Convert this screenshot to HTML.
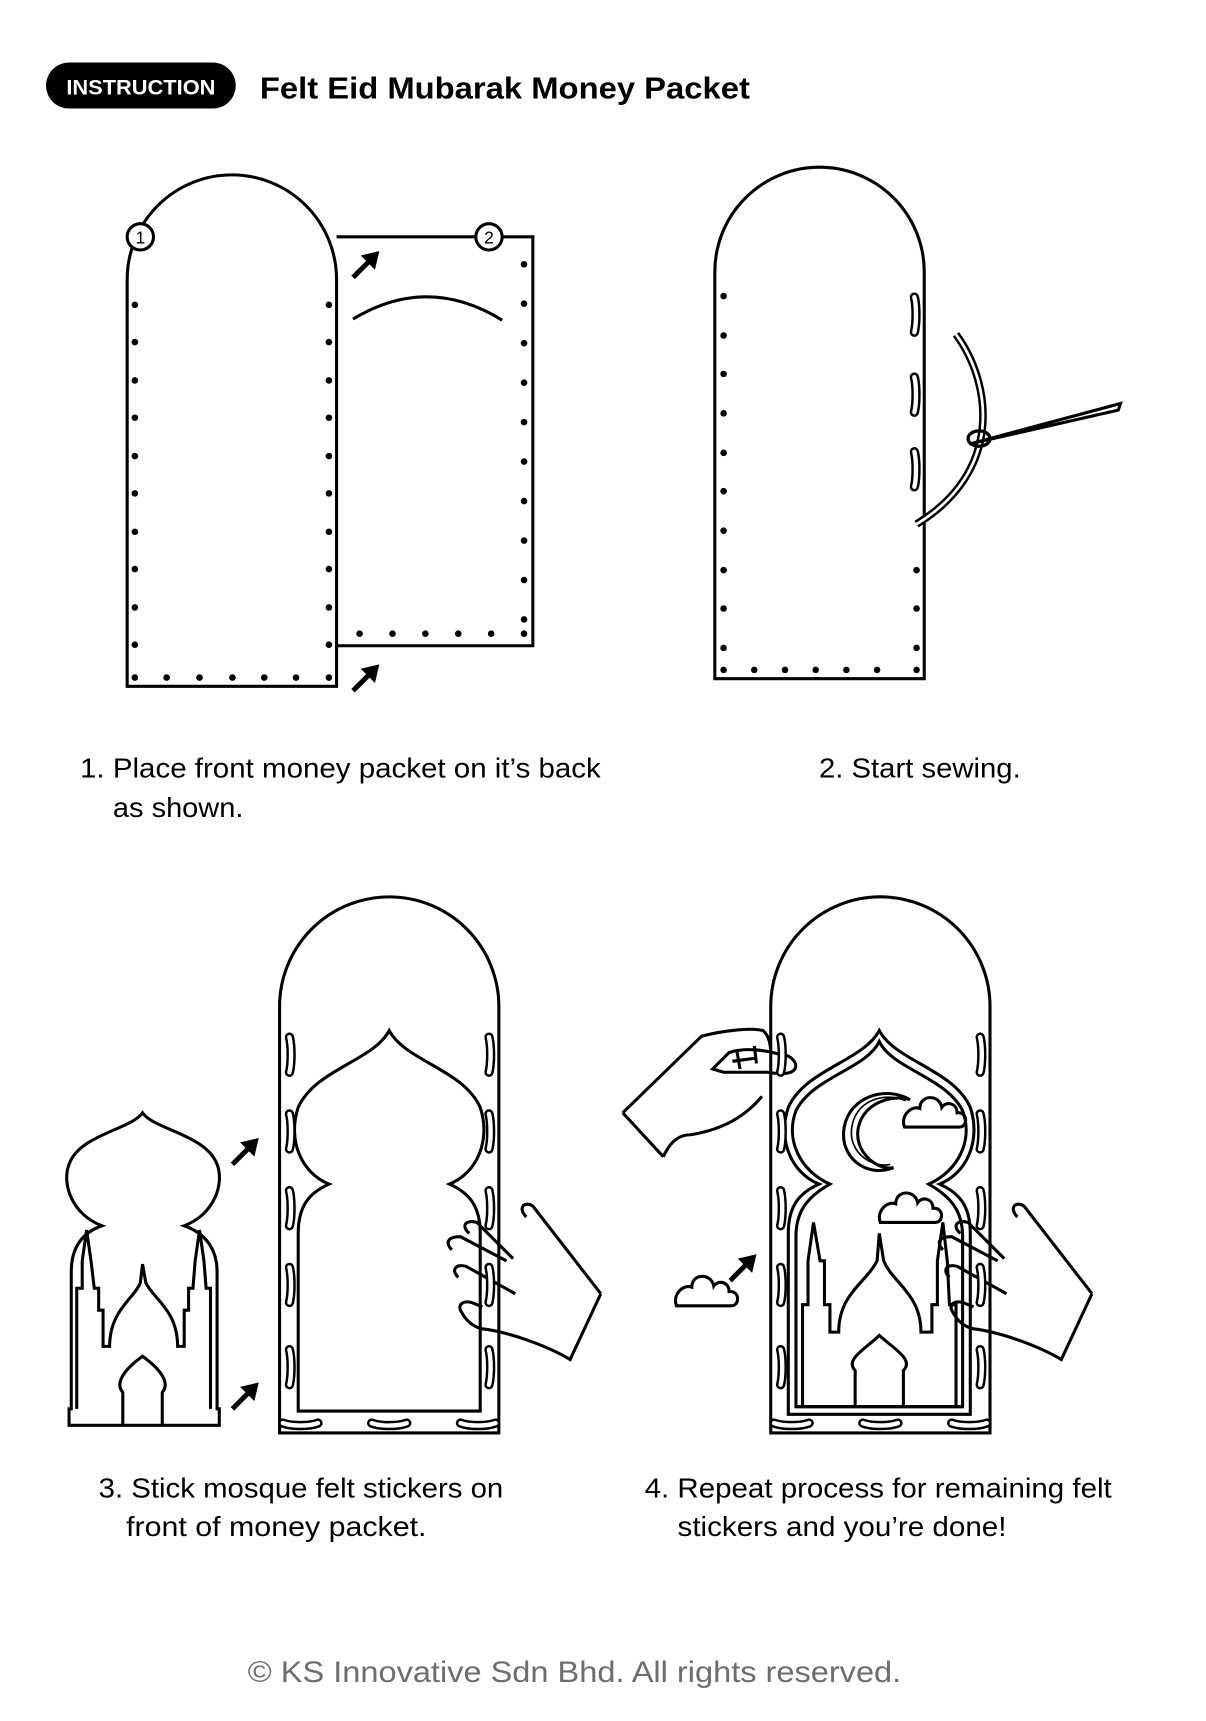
<!DOCTYPE html>
<html><head><meta charset="utf-8"><style>
html,body{margin:0;padding:0;background:#fff;}
svg{display:block;}
text{font-family:"Liberation Sans",sans-serif;}
</style></head><body>
<svg width="1206" height="1721" viewBox="0 0 1100 1569.7" xmlns="http://www.w3.org/2000/svg">
<defs>
<g id="stV"><path d="M0,-16 C2,-8 2,8 0,16" fill="none" stroke="#000" stroke-width="8.5" stroke-linecap="round"/><path d="M0,-16 C2,-8 2,8 0,16" fill="none" stroke="#fff" stroke-width="4" stroke-linecap="round"/></g>
<g id="stH"><path d="M-16,0 C-8,3 8,3 16,0" fill="none" stroke="#000" stroke-width="8.5" stroke-linecap="round"/><path d="M-16,0 C-8,3 8,3 16,0" fill="none" stroke="#fff" stroke-width="4" stroke-linecap="round"/></g>
<g id="arr"><line x1="0" y1="0" x2="15" y2="-15" stroke="#000" stroke-width="4.5"/><path d="M24,-24 L7,-20 L20,-7 Z" fill="#000"/></g>
<path id="cloud" d="M0,0 L50,0 C58,0 58,-14 48,-13 C48,-22 38,-24 34,-18 C32,-30 14,-30 14,-17 C6,-20 -4,-10 0,0 Z"/>
</defs>
<rect x="0" y="0" width="1100" height="1570" fill="#fff"/>

<rect x="42" y="57" width="173" height="42" rx="21" fill="#000"/>
<text x="128.5" y="86" fill="#fff" font-size="19" font-weight="bold" text-anchor="middle" textLength="136" lengthAdjust="spacingAndGlyphs">INSTRUCTION</text>
<text x="237" y="90" font-size="28" font-weight="bold" textLength="447" lengthAdjust="spacingAndGlyphs">Felt Eid Mubarak Money Packet</text>

<g fill="none" stroke="#000" stroke-width="2.8">
<path d="M307,216 L486,216 L486,589 L307,589"/>
<path d="M322,291 Q390,250 458,292"/>
<path d="M116,626 L116,255 A95.5,95.5 0 0 1 307,255 L307,626 Z" fill="#fff"/>
<circle cx="128" cy="216" r="12" fill="#fff"/>
<circle cx="446" cy="216" r="12" fill="#fff"/>
<path d="M652,619 L652,248 A95.5,95.5 0 0 1 843,248 L843,619 Z"/>
<path d="M255,1307 L255,918 A100,100 0 0 1 455,918 L455,1307 Z"/>
<path d="M272,1287 L272,1125 C272,1100 282,1088 300,1080 C275,1070 262,1040 272,1010 C288,975 340,968 355,940 C370,968 422,975 438,1010 C448,1040 435,1070 410,1080 C428,1088 438,1100 438,1125 L438,1287 Z"/>
<path d="M703,1307 L703,918 A100,100 0 0 1 903,918 L903,1307 Z"/>
<path d="M719,1290 L719,1125 C719,1100 729,1088 747,1080 C722,1070 709,1040 719,1010 C735,975 787,968 802,940 C817,968 869,975 885,1010 C895,1040 882,1070 857,1080 C875,1088 885,1100 885,1125 L885,1290 Z"/>
<path d="M726,1283 L726,1128 C726,1105 736,1092 757,1080 C730,1068 716,1040 726,1013 C742,982 790,975 802,950 C814,975 862,982 878,1013 C888,1040 874,1068 847,1080 C868,1092 878,1105 878,1128 L878,1283 Z"/>
<path d="M830,1003 C808,990 775,1000 770,1028 C765,1055 790,1075 815,1065 C800,1068 778,1050 783,1028 C788,1005 815,998 830,1003 Z"/>
<path d="M826,1004 C805,995 780,1005 777,1028 C773,1052 797,1066 812,1062" stroke-width="1.5"/>
<path d="M732,1283 L732,1190 L737,1190 L737,1150 L742,1115 L748,1150 L752,1150 L752,1190 L757,1190 L757,1215 L765,1215 C765,1180 790,1170 800,1150 L802,1125 L806,1150 C814,1170 840,1180 840,1215 L850,1215 L850,1190 L855,1190 L855,1150 L860,1115 L864,1150 L866,1190 L872,1190 L872,1283"/>
<path d="M780,1283 L780,1250 C770,1240 790,1230 802,1218 C815,1230 834,1240 824,1250 L824,1283"/>
<line x1="726" y1="1283" x2="878" y2="1283"/>
<path d="M63,1300 L200,1300 L200,1285 L198,1285 L198,1160 C198,1140 188,1125 168,1118 C195,1108 205,1080 198,1062 C188,1035 140,1030 130,1015 C120,1030 72,1035 63,1062 C56,1080 66,1108 93,1118 C73,1125 65,1140 65,1160 L65,1285 L63,1285 Z"/>
<path d="M70,1285 L70,1175 L75,1175 L75,1150 L79,1122 L83,1150 L86,1175 L90,1175 L90,1195 L94,1195 L94,1228 L100,1228 C100,1195 122,1185 128,1170 L130,1153 L133,1170 C140,1185 162,1195 162,1228 L168,1228 L168,1195 L172,1195 L172,1175 L176,1175 L178,1150 L182,1122 L186,1150 L188,1175 L192,1175 L192,1285"/>
<path d="M112,1300 L112,1270 C105,1262 112,1250 130,1237 C148,1250 155,1262 148,1270 L148,1300"/>
<path d="M872,305 C905,350 915,430 836,478" stroke-width="7"/>
<path d="M872,305 C905,350 915,430 836,478" stroke="#fff" stroke-width="2.5"/>
<path d="M884,405 L1022,368 L1020,374 Z" stroke-width="2.8" fill="#fff"/>
<ellipse cx="893" cy="400" rx="10" ry="7" stroke-width="3"/>
<path d="M548,1180 L520,1240 C500,1228 465,1215 440,1212 C430,1210 424,1203 420,1195 C418,1190 422,1186 430,1188 L440,1192 M418,1165 C412,1160 414,1152 425,1155 L470,1180 M412,1140 C405,1132 410,1128 420,1128 L462,1150 M428,1125 C420,1118 425,1112 435,1115 L468,1148 M480,1110 C472,1102 478,1095 486,1100 L548,1180"/>
<path d="M996,1180 L968,1240 C948,1228 913,1215 888,1212 C878,1210 872,1203 868,1195 C866,1190 870,1186 878,1188 L888,1192 M866,1165 C860,1160 862,1152 873,1155 L918,1180 M860,1140 C853,1132 858,1128 868,1128 L910,1150 M876,1125 C868,1118 873,1112 883,1115 L916,1148 M928,1110 C920,1102 926,1095 934,1100 L996,1180"/>
<path d="M568,1015 L640,945 C660,940 685,937 696,940 C702,945 703,955 703,960 M605,1055 L568,1015 M605,1055 C612,1040 620,1035 630,1035 C660,1030 680,1018 695,1000 M650,975 L665,960 C680,955 700,958 712,962 C722,962 728,970 725,975 C722,980 712,980 700,978 L660,978 Z M668,968 L690,965 M672,958 L675,975 M688,954 L690,970"/>
<use href="#cloud" x="825" y="1028"/>
<use href="#cloud" x="803" y="1115"/>
<use href="#cloud" x="617" y="1191"/>
</g>
<text x="128" y="222" font-size="16" text-anchor="middle">1</text>
<text x="446" y="222" font-size="16" text-anchor="middle">2</text>

<g fill="#000">
<g id="d1">
<circle cx="123" cy="278" r="3"/><circle cx="123" cy="312" r="3"/><circle cx="123" cy="347" r="3"/><circle cx="123" cy="381" r="3"/><circle cx="123" cy="416" r="3"/><circle cx="123" cy="450" r="3"/><circle cx="123" cy="485" r="3"/><circle cx="123" cy="519" r="3"/><circle cx="123" cy="554" r="3"/><circle cx="123" cy="588" r="3"/>
</g>
<use href="#d1" x="177"/>
<circle cx="123" cy="618" r="3"/><circle cx="152" cy="618" r="3"/><circle cx="182" cy="618" r="3"/><circle cx="212" cy="618" r="3"/><circle cx="241" cy="618" r="3"/><circle cx="270" cy="618" r="3"/><circle cx="300" cy="618" r="3"/>
<circle cx="478" cy="241" r="3"/><circle cx="478" cy="277" r="3"/><circle cx="478" cy="313" r="3"/><circle cx="478" cy="349" r="3"/><circle cx="478" cy="385" r="3"/><circle cx="478" cy="421" r="3"/><circle cx="478" cy="457" r="3"/><circle cx="478" cy="493" r="3"/><circle cx="478" cy="529" r="3"/><circle cx="478" cy="565" r="3"/>
<circle cx="328" cy="578" r="3"/><circle cx="358" cy="578" r="3"/><circle cx="388" cy="578" r="3"/><circle cx="418" cy="578" r="3"/><circle cx="448" cy="578" r="3"/><circle cx="478" cy="578" r="3"/>
<circle cx="660" cy="270" r="3"/><circle cx="660" cy="306" r="3"/><circle cx="660" cy="341" r="3"/><circle cx="660" cy="377" r="3"/><circle cx="660" cy="413" r="3"/><circle cx="660" cy="448" r="3"/><circle cx="660" cy="484" r="3"/><circle cx="660" cy="520" r="3"/><circle cx="660" cy="555" r="3"/><circle cx="660" cy="591" r="3"/>
<circle cx="836" cy="520" r="3"/><circle cx="836" cy="555" r="3"/><circle cx="836" cy="591" r="3"/>
<circle cx="660" cy="611" r="3"/><circle cx="688" cy="611" r="3"/><circle cx="716" cy="611" r="3"/><circle cx="744" cy="611" r="3"/><circle cx="772" cy="611" r="3"/><circle cx="800" cy="611" r="3"/><circle cx="836" cy="611" r="3"/>
</g>

<use href="#stV" x="834" y="287"/><use href="#stV" x="834" y="360"/><use href="#stV" x="834" y="428"/>
<g id="s3">
<use href="#stV" x="264" y="962"/><use href="#stV" x="264" y="1032"/><use href="#stV" x="264" y="1102"/><use href="#stV" x="264" y="1172"/><use href="#stV" x="264" y="1247"/>
<use href="#stV" x="446" y="962"/><use href="#stV" x="446" y="1032"/><use href="#stV" x="446" y="1102"/><use href="#stV" x="446" y="1172"/><use href="#stV" x="446" y="1247"/>
<use href="#stH" x="274" y="1298"/><use href="#stH" x="355" y="1298"/><use href="#stH" x="436" y="1298"/>
</g>
<use href="#s3" x="448"/>

<use href="#arr" x="322" y="253"/><use href="#arr" x="322" y="630"/>
<use href="#arr" x="212" y="1062"/><use href="#arr" x="212" y="1285"/>
<use href="#arr" x="666" y="1168"/>

<g font-size="25" fill="#000">
<text x="73" y="709" textLength="475" lengthAdjust="spacingAndGlyphs">1. Place front money packet on it’s back</text>
<text x="103" y="745" textLength="119" lengthAdjust="spacingAndGlyphs">as shown.</text>
<text x="747" y="709" textLength="184" lengthAdjust="spacingAndGlyphs">2. Start sewing.</text>
<text x="90" y="1366" textLength="369" lengthAdjust="spacingAndGlyphs">3. Stick mosque felt stickers on</text>
<text x="115" y="1401" textLength="274" lengthAdjust="spacingAndGlyphs">front of money packet.</text>
<text x="588" y="1366" textLength="426" lengthAdjust="spacingAndGlyphs">4. Repeat process for remaining felt</text>
<text x="618" y="1401" textLength="300" lengthAdjust="spacingAndGlyphs">stickers and you’re done!</text>
</g>
<text x="226" y="1534" font-size="27" fill="#6d6d6d" textLength="596" lengthAdjust="spacingAndGlyphs">© KS Innovative Sdn Bhd.  All rights reserved.</text>
</svg>
</body></html>
